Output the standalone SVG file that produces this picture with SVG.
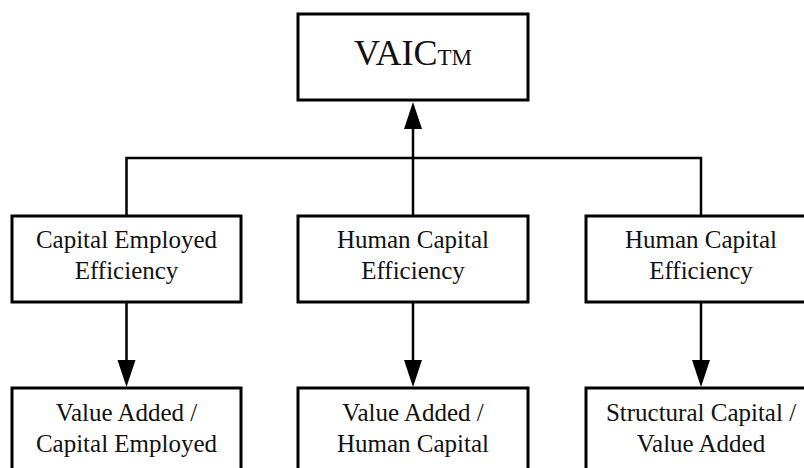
<svg xmlns="http://www.w3.org/2000/svg" width="804" height="468" viewBox="0 0 804 468">
<style>
.box{fill:#fff;stroke:#000;stroke-width:3}
.t{font-family:"Liberation Serif","Times New Roman",serif;font-size:25px;fill:#111;text-anchor:middle}
.big{font-family:"Liberation Serif","Times New Roman",serif;font-size:36px;fill:#111}
.sm{font-size:23px}
.c{fill:none;stroke:#000;stroke-width:2.5}
</style>
<defs>
<marker id="ah" markerWidth="18" markerHeight="26" refX="18" refY="9" orient="auto" markerUnits="userSpaceOnUse" viewBox="0 0 26 18">
<path d="M0,0 L26,9 L0,18 Z" fill="#000"/>
</marker>
</defs>
<rect width="804" height="468" fill="#fff"/>
<g id="connectors">
<polyline class="c" points="126.5,302 126.5,360"/>
<path d="M117.5,360 L135.5,360 L126.5,387 Z" fill="#000"/>
<polyline class="c" points="413,302 413,360"/>
<path d="M404,360 L422,360 L413,387 Z" fill="#000"/>
<polyline class="c" points="701,302 701,360"/>
<path d="M692,360 L710,360 L701,387 Z" fill="#000"/>
<polyline class="c" points="126.5,216 126.5,158 701,158 701,216"/>
<polyline class="c" points="413,216 413,129"/>
<path d="M404,129 L422,129 L413,102 Z" fill="#000"/>
</g>
<g id="vaic">
<rect class="box" x="298" y="14" width="230" height="86"/>
<text class="big" x="413" y="65" text-anchor="middle">VAIC<tspan class="sm">TM</tspan></text>
</g>
<g id="cee">
<rect class="box" x="12" y="216" width="229" height="86"/>
<text class="t" x="126.5" y="248">Capital Employed</text>
<text class="t" x="126.5" y="279">Efficiency</text>
</g>
<g id="hce1">
<rect class="box" x="298" y="216" width="230" height="86"/>
<text class="t" x="413" y="248">Human Capital</text>
<text class="t" x="413" y="279">Efficiency</text>
</g>
<g id="hce2">
<rect class="box" x="586" y="216" width="230" height="86"/>
<text class="t" x="701" y="248">Human Capital</text>
<text class="t" x="701" y="279">Efficiency</text>
</g>
<g id="vace">
<rect class="box" x="12" y="388" width="229" height="100"/>
<text class="t" x="126.5" y="421">Value Added /</text>
<text class="t" x="126.5" y="452">Capital Employed</text>
</g>
<g id="vahc">
<rect class="box" x="298" y="388" width="230" height="100"/>
<text class="t" x="413" y="421">Value Added /</text>
<text class="t" x="413" y="452">Human Capital</text>
</g>
<g id="scva">
<rect class="box" x="586" y="388" width="230" height="100"/>
<text class="t" x="701" y="421">Structural Capital /</text>
<text class="t" x="701" y="452">Value Added</text>
</g>
</svg>
